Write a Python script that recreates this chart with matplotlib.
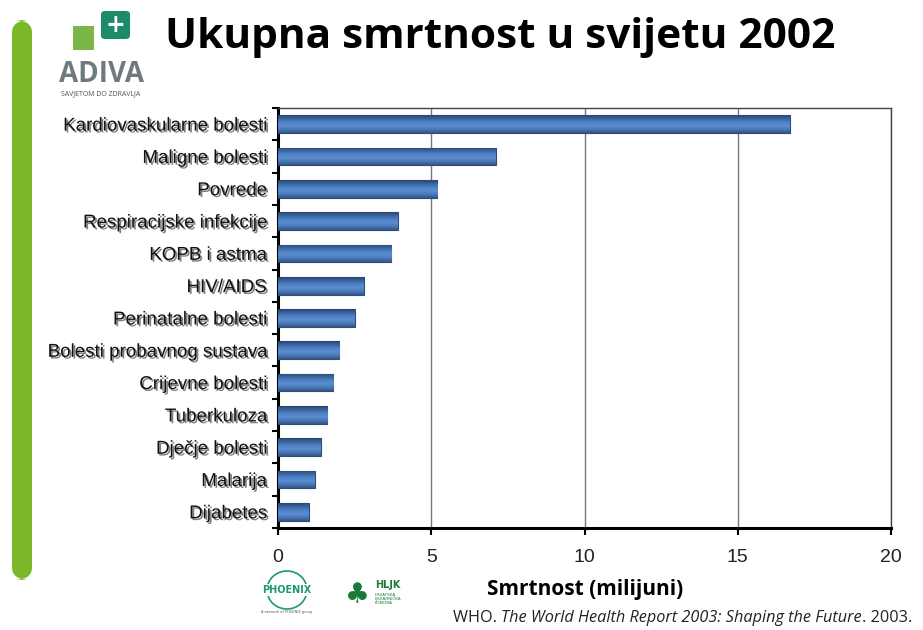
#!/usr/bin/env python3

import numpy as np
import matplotlib
matplotlib.use('Agg')
import matplotlib.pyplot as plt
import matplotlib.patheffects as pe
from matplotlib.patches import FancyBboxPatch, Rectangle, Ellipse
from matplotlib.colors import LinearSegmentedColormap

# data (millions of deaths, 2002)
causes = ['Kardiovaskularne bolesti', 'Maligne bolesti', 'Povrede',
	'Respiracijske infekcije', 'KOPB i astma', 'HIV/AIDS',
	'Perinatalne bolesti', 'Bolesti probavnog sustava', 'Crijevne bolesti',
	'Tuberkuloza', 'Dječje bolesti', 'Malarija', 'Dijabetes']
deaths = [16.7, 7.1, 5.2, 3.9, 3.7, 2.8, 2.5, 2.0, 1.8, 1.6, 1.4, 1.2, 1.0]
xticks = [0, 5, 10, 15, 20]

W, H = 923, 630
fig = plt.figure(figsize=(W/100, H/100), dpi=100)

def fx(px):
	return px / W

def fy(py):
	return 1 - py / H

# green strip on the left of the slide
fig.patches.append(FancyBboxPatch((fx(12), fy(580)), 20/W, 560/H,
	boxstyle='round,pad=0,rounding_size=0.02', transform=fig.transFigure,
	fc='#7ab829', ec='none', zorder=0))

ax = fig.add_axes([fx(278), fy(528), 613/W, 420/H])

y = np.arange(len(causes))
bars = ax.barh(y, deaths, height=0.55, color='#4a78b8', edgecolor='#2d4a78',
	linewidth=0.8, zorder=3)

# excel-ish shaded bars
grad = LinearSegmentedColormap.from_list('barg',
	['#2a4470', '#3a64a0', '#4f82c4', '#5a8dd0', '#4a78b8', '#34558a'])
gimg = np.linspace(0, 1, 64).reshape(-1, 1)
for b in bars:
	x0, y0 = b.get_x(), b.get_y()
	w, h = b.get_width(), b.get_height()
	im = ax.imshow(gimg, cmap=grad, aspect='auto', origin='lower',
		extent=[x0, x0 + w, y0, y0 + h], zorder=4)
	im.set_clip_path(b)

ax.set_xlim(0, 20)
ax.set_ylim(len(causes) - 0.5, -0.5)
ax.set_xticks(xticks)
ax.set_xticklabels([str(t) for t in xticks], fontsize=14, family='Liberation Sans',
	color='#222222')
ax.set_yticks(y)
ax.set_yticklabels(causes, fontsize=13.5, family=['Liberation Sans Narrow', 'Liberation Sans'],
	color='#111111')
for lab in ax.get_yticklabels():
	lab.set_path_effects([pe.withSimplePatchShadow(offset=(1.3, -1.3), shadow_rgbFace='#555555', alpha=0.75)])

# boundary ticks on the category axis
ax.set_yticks(np.arange(len(causes) + 1) - 0.5, minor=True)
ax.tick_params(axis='y', which='major', length=0, pad=8)
ax.tick_params(axis='y', which='minor', length=4, width=1.5, direction='out')
ax.tick_params(axis='x', length=5, width=1.5, direction='out', pad=10)

ax.grid(axis='x', color='#777777', linewidth=1.0, zorder=1)
for s in ['top', 'right']:
	ax.spines[s].set_color('#444444')
	ax.spines[s].set_linewidth(1.0)
ax.spines['left'].set_linewidth(2.2)
ax.spines['bottom'].set_linewidth(2.2)

ax.set_xlabel('Smrtnost (milijuni)', fontsize=15, fontweight='bold', family='Open Sans')
ax.xaxis.set_label_coords((585 - 278) / 613, (528 - 590) / 420)
ax.xaxis.label.set_va('center')

fig.text(fx(165), fy(38), 'Ukupna smrtnost u svijetu 2002', fontsize=30.5,
	fontweight='bold', family='Open Sans', va='center', ha='left')

# ADIVA logo, rough
fig.patches.append(Rectangle((fx(73), fy(50)), 21/W, 24/H, transform=fig.transFigure,
	fc='#7ab648', ec='none'))
fig.patches.append(FancyBboxPatch((fx(101), fy(39)), 29/W, 28/H,
	boxstyle='round,pad=0,rounding_size=0.005', transform=fig.transFigure,
	fc='#1d8a6a', ec='none'))
fig.text(fx(115.5), fy(25), '+', fontsize=17, fontweight='bold', color='white',
	ha='center', va='center', family='DejaVu Sans')
fig.text(fx(59), fy(74), 'ADIVA', fontsize=20, fontweight='bold', color='#6f7a80',
	ha='left', va='center', family='Open Sans')
fig.text(fx(61), fy(94), 'SAVJETOM DO ZDRAVLJA', fontsize=5, color='#555555',
	ha='left', va='center', family='Open Sans')

# partner logos at the bottom
fig.patches.append(Ellipse((fx(287), fy(590)), 40/W, 38/H, transform=fig.transFigure,
	fc='none', ec='#1d9a6a', lw=1.2))
fig.text(fx(287), fy(590), 'PHOENIX', fontsize=7, fontweight='bold', color='#1d9a6a',
	ha='center', va='center', family='DejaVu Sans',
	bbox=dict(fc='white', ec='none', pad=0.5))
fig.text(fx(287), fy(612), 'A network of PHOENIX group', fontsize=2.5, color='#555555',
	ha='center', va='center')
fig.text(fx(375), fy(585), 'HLJK', fontsize=7, fontweight='bold', color='#1a7a3a',
	ha='left', va='center', family='DejaVu Sans')
fig.text(fx(375), fy(599), 'HRVATSKA\nLJEKARNIČKA\nKOMORA', fontsize=3, color='#1a7a3a',
	ha='left', va='center', linespacing=1.0)
fig.text(fx(357), fy(595), '\u2663', fontsize=20, color='#1a7a3a', ha='center', va='center',
	family='DejaVu Sans')

# citation, pieces laid out one after another
renderer = fig.canvas.get_renderer()
xpos = fx(453)
for txt, st in [('WHO. ', 'normal'),
		('The World Health Report 2003: Shaping the Future', 'italic'),
		('. 2003.', 'normal')]:
	t = fig.text(xpos, fy(618), txt, fontsize=11.7, family='Open Sans', style=st,
		color='#222222', ha='left', va='center')
	bb = t.get_window_extent(renderer=renderer)
	xpos = fig.transFigure.inverted().transform((bb.x1, bb.y0))[0]

fig.savefig('out.png', dpi=100)
